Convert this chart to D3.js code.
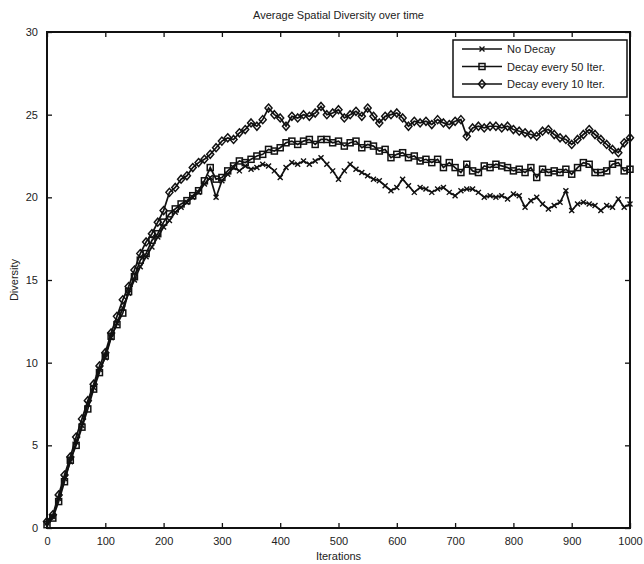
<!DOCTYPE html>
<html>
<head>
<meta charset="utf-8">
<script src="https://cdn.jsdelivr.net/npm/d3@7"></script>
<style>
  body { margin: 0; background: #fff; }
  svg text { font-family: "Liberation Sans", Arial, sans-serif; fill: #222; }
</style>
</head>
<body>
<svg class="chart"></svg>
<script>
// chart dimensions
var width = 644;
var height = 564;
var margin = {top: 32, right: 14, bottom: 36, left: 47};
var w = width - margin.left - margin.right;
var h = height - margin.top - margin.bottom;

// data, one value every 10 iterations
var iterations = d3.range(0, 1001, 10);
var noDecay = [0.3, 0.7, 1.8, 3.0, 4.0, 5.2, 6.2, 7.5, 8.5, 9.6,
  10.3, 11.5, 12.4, 13.3, 14.2, 15.0, 15.8, 16.4, 17.0, 17.6,
  18.2, 18.6, 19.1, 19.4, 19.7, 20.0, 20.3, 20.8, 21.2, 20.0,
  21.0, 21.4, 21.8, 21.6, 21.9, 21.7, 21.8, 22.0, 21.9, 21.6,
  21.2, 21.8, 22.1, 22.0, 22.2, 22.0, 22.2, 22.4, 22.0, 21.6,
  21.1, 21.6, 22.0, 21.7, 21.5, 21.3, 21.1, 21.0, 20.7, 20.4,
  20.6, 21.1, 20.7, 20.3, 20.6, 20.5, 20.3, 20.5, 20.6, 20.3,
  20.1, 20.4, 20.5, 20.5, 20.3, 20.0, 20.1, 20.0, 20.1, 19.9,
  20.2, 20.1, 19.4, 19.8, 20.0, 19.6, 19.3, 19.5, 19.7, 20.4,
  19.2, 19.6, 19.7, 19.6, 19.5, 19.2, 19.5, 19.4, 19.9, 19.4, 19.6];
var decay50 = [0.2, 0.6, 1.6, 2.8, 4.1, 5.0, 6.1, 7.2, 8.4, 9.4,
  10.4, 11.6, 12.3, 13.0, 14.3, 15.2, 16.2, 16.6, 17.4, 17.8,
  18.5, 19.0, 19.3, 19.6, 19.8, 20.1, 20.4, 21.0, 21.8, 21.1,
  21.2, 21.6, 21.9, 22.2, 22.1, 22.3, 22.5, 22.6, 22.9, 22.8,
  23.0, 23.3, 23.4, 23.2, 23.4, 23.5, 23.2, 23.5, 23.5, 23.3,
  23.4, 23.1, 23.3, 23.4, 23.0, 23.2, 23.1, 22.8, 22.9, 22.4,
  22.6, 22.7, 22.4, 22.5, 22.2, 22.3, 22.1, 22.3, 21.8, 22.1,
  21.8, 21.5, 22.0, 21.6, 21.5, 21.9, 21.8, 22.0, 21.9, 21.8,
  21.6, 21.7, 21.5, 21.8, 21.2, 21.7, 21.5, 21.6, 21.5, 21.7,
  21.4, 21.8, 22.1, 22.0, 21.5, 21.5, 21.6, 22.0, 22.1, 21.6, 21.7];
var decay10 = [0.4, 0.8, 2.0, 3.2, 4.3, 5.5, 6.6, 7.7, 8.7, 9.8,
  10.6, 11.8, 12.8, 13.8, 14.6, 15.6, 16.6, 17.3, 17.8, 18.5,
  19.2, 20.3, 20.6, 21.1, 21.3, 21.8, 22.1, 22.3, 22.6, 23.0,
  23.4, 23.6, 23.5, 23.9, 24.1, 24.5, 24.3, 24.7, 25.4, 25.0,
  24.8, 24.3, 24.9, 24.8, 25.0, 24.9, 25.1, 25.5, 25.0, 25.1,
  25.3, 24.8, 25.0, 25.2, 24.9, 25.4, 24.9, 24.5, 24.9, 25.0,
  25.1, 24.8, 24.3, 24.6, 24.5, 24.6, 24.4, 24.7, 24.5, 24.4,
  24.6, 24.7, 23.7, 24.2, 24.3, 24.2, 24.3, 24.3, 24.2, 24.3,
  24.1, 24.0, 23.9, 23.8, 23.7, 24.0, 24.1, 23.8, 23.6, 23.5,
  23.2, 23.5, 23.8, 24.1, 23.8, 23.5, 23.2, 22.9, 22.7, 23.3, 23.6];

var seriesNames = ["No Decay", "Decay every 50 Iter.", "Decay every 10 Iter."];
var seriesValues = [noDecay, decay50, decay10];
var markerTypes = ["cross", "square", "diamond"];
var xTicks = d3.range(0, 1001, 100);
var yTicks = d3.range(0, 31, 5);

var svg = d3.select(".chart")
    .attr("width", width)
    .attr("height", height);

var chart = svg.append("g")
    .attr("transform", "translate(" + margin.left + "," + margin.top + ")");

var x = d3.scaleLinear().domain([0, 1000]).range([0, w]);
var y = d3.scaleLinear().domain([0, 30]).range([h, 0]);

// axes, matlab style ticks pointing inward
var tickLen = 5;
chart.append("g")
    .attr("transform", "translate(0," + h + ")")
    .call(d3.axisBottom(x).tickValues(xTicks).tickFormat(d3.format("d"))
        .tickSizeInner(-tickLen).tickSizeOuter(0).tickPadding(9))
    .call(function(g) { g.select(".domain").remove(); })
    .selectAll("text").style("font-size", "11px");
chart.append("g")
    .call(d3.axisLeft(y).tickValues(yTicks).tickSizeInner(-tickLen).tickSizeOuter(0).tickPadding(9))
    .call(function(g) { g.select(".domain").remove(); })
    .selectAll("text").style("font-size", "11px");
chart.append("g")
    .call(d3.axisTop(x).tickValues(xTicks).tickSizeInner(-tickLen).tickSizeOuter(0).tickFormat(""))
    .call(function(g) { g.select(".domain").remove(); });
chart.append("g")
    .attr("transform", "translate(" + w + ",0)")
    .call(d3.axisRight(y).tickValues(yTicks).tickSizeInner(-tickLen).tickSizeOuter(0).tickFormat(""))
    .call(function(g) { g.select(".domain").remove(); });
chart.selectAll(".tick line").attr("stroke", "#111").attr("stroke-width", 1.3);

// frame
chart.append("rect")
    .attr("width", w)
    .attr("height", h)
    .attr("fill", "none")
    .attr("stroke", "#111")
    .attr("stroke-width", 2);

// marker drawing helper
function drawMarker(g, type, cx, cy) {
    if (type === "square") {
        g.append("rect").attr("x", cx - 3).attr("y", cy - 3).attr("width", 6).attr("height", 6)
            .attr("fill", "none").attr("stroke", "#111").attr("stroke-width", 1.5);
    } else if (type === "diamond") {
        g.append("path").attr("d", "M" + cx + "," + (cy - 4) + "L" + (cx + 3.5) + "," + cy +
                "L" + cx + "," + (cy + 4) + "L" + (cx - 3.5) + "," + cy + "Z")
            .attr("fill", "none").attr("stroke", "#111").attr("stroke-width", 1.5);
    } else {
        g.append("path").attr("d", "M" + (cx - 2.5) + "," + (cy - 2.5) + "L" + (cx + 2.5) + "," + (cy + 2.5) +
                "M" + (cx - 2.5) + "," + (cy + 2.5) + "L" + (cx + 2.5) + "," + (cy - 2.5))
            .attr("stroke", "#111").attr("stroke-width", 1.4);
    }
}

var line = d3.line()
    .x(function(d) { return x(d[0]); })
    .y(function(d) { return y(d[1]); });

seriesValues.forEach(function(vals, i) {
    var pts = iterations.map(function(it, j) { return [it, vals[j]]; });
    var g = chart.append("g");
    g.append("path")
        .datum(pts)
        .attr("d", line)
        .attr("fill", "none")
        .attr("stroke", "#111")
        .attr("stroke-width", 1.7);
    pts.forEach(function(p) { drawMarker(g, markerTypes[i], x(p[0]), y(p[1])); });
});

// legend
var legend = chart.append("g").attr("transform", "translate(" + (453 - margin.left) + "," + (40 - margin.top) + ")");
legend.append("rect")
    .attr("width", 174)
    .attr("height", 57)
    .attr("fill", "#fff")
    .attr("stroke", "#111")
    .attr("stroke-width", 1.5);
seriesNames.forEach(function(name, i) {
    var ly = 9 + i * 17.5;
    legend.append("line")
        .attr("x1", 9).attr("x2", 49)
        .attr("y1", ly).attr("y2", ly)
        .attr("stroke", "#111").attr("stroke-width", 1.7);
    drawMarker(legend, markerTypes[i], 29, ly);
    legend.append("text")
        .attr("x", 54).attr("y", ly + 4)
        .style("font-size", "11px")
        .text(name);
});

// title and axis labels
svg.append("text")
    .attr("x", margin.left + w / 2)
    .attr("y", 19)
    .attr("text-anchor", "middle")
    .style("font-size", "11px")
    .text("Average Spatial Diversity over time");
svg.append("text")
    .attr("x", margin.left + w / 2)
    .attr("y", 560)
    .attr("text-anchor", "middle")
    .style("font-size", "11px")
    .text("Iterations");
svg.append("text")
    .attr("transform", "translate(18," + (margin.top + h / 2) + ") rotate(-90)")
    .attr("text-anchor", "middle")
    .style("font-size", "11px")
    .text("Diversity");
</script>
</body>
</html>
